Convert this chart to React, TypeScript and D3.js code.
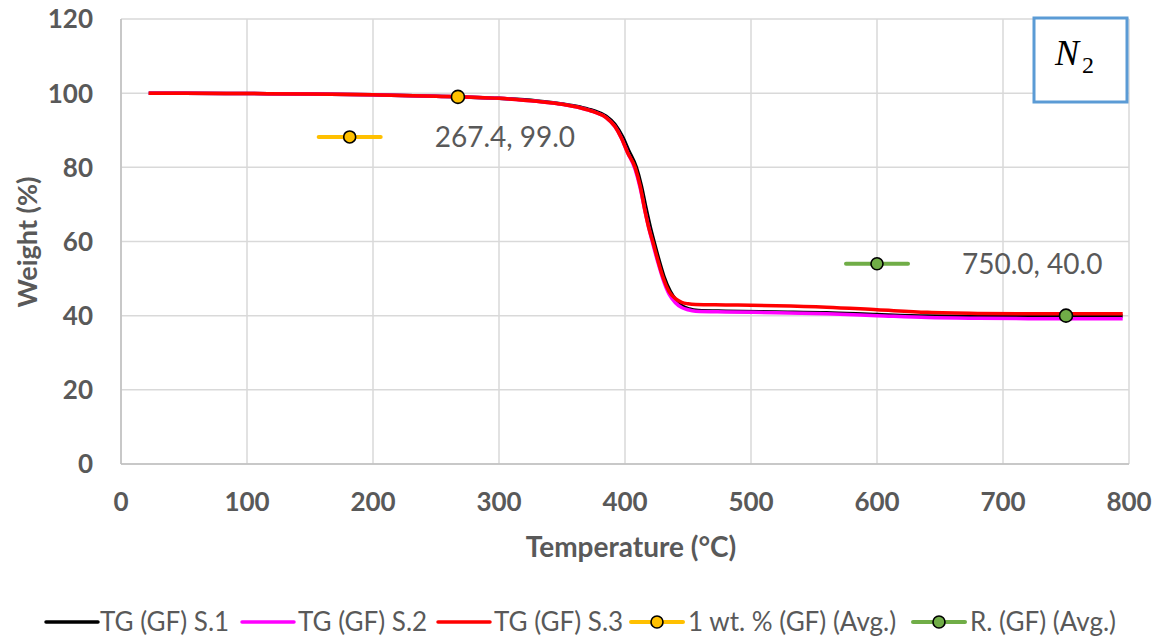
import React from "react";
import * as d3 from "d3";

const W = 1153;
const H = 639;

const xTicks = [0, 100, 200, 300, 400, 500, 600, 700, 800];
const yTicks = [0, 20, 40, 60, 80, 100, 120];

const tgS1: [number, number][] = [
  [22, 100], [50, 100], [100, 99.9], [150, 99.8], [200, 99.55], [250, 99.2], [300, 98.6],
  [330, 97.9], [350, 97.1], [365, 96.2], [375, 95.3], [385, 93.8], [392, 91.6], [398, 88.3],
  [403, 84.5], [409, 80], [413, 75], [417, 68.5], [420, 64], [423, 60], [427, 55], [431, 50.5],
  [436, 46.5], [441, 44], [446, 42.5], [451, 41.8], [458, 41.4], [480, 41.2], [520, 41.0],
  [560, 40.8], [600, 40.3], [640, 39.9], [680, 39.8], [720, 39.8], [760, 39.8], [795, 39.9],
];

const tgS2: [number, number][] = [
  [22, 100], [50, 100], [100, 99.9], [150, 99.8], [200, 99.55], [250, 99.2], [300, 98.6],
  [330, 97.8], [350, 97.0], [365, 96.0], [375, 95.0], [385, 93.4], [392, 91], [397, 88],
  [402, 84], [408, 79.5], [412, 74.5], [416, 68], [419, 63.5], [422, 59.5], [426, 54.5],
  [430, 50], [435, 45.8], [440, 43.5], [445, 42.2], [450, 41.6], [456, 41.2], [480, 41.0],
  [520, 40.8], [560, 40.5], [600, 40.0], [640, 39.5], [680, 39.3], [720, 39.2], [760, 39.2],
  [795, 39.2],
];

const tgS3: [number, number][] = [
  [22, 100], [50, 100], [100, 99.9], [150, 99.8], [200, 99.55], [250, 99.2], [300, 98.6],
  [330, 97.8], [350, 97.0], [365, 96.0], [375, 95.0], [385, 93.4], [392, 91], [397, 88],
  [402, 84], [408, 80], [412, 75], [416, 68], [419, 63.5], [422, 60], [426, 55], [430, 50.5],
  [435, 46.5], [440, 44.6], [445, 43.6], [450, 43.2], [456, 43.0], [480, 42.9], [520, 42.7],
  [560, 42.3], [600, 41.6], [640, 40.9], [680, 40.6], [720, 40.5], [760, 40.5], [795, 40.5],
];

const onsetPoint: [number, number] = [267.4, 99.0];
const onsetLabelAt: [number, number] = [181.5, 88.2];
const residuePoint: [number, number] = [750.0, 40.0];
const residueLabelAt: [number, number] = [600, 54];

const seriesNames = ["TG (GF) S.1", "TG (GF) S.2", "TG (GF) S.3", "1 wt. % (GF) (Avg.)", "R. (GF) (Avg.)"];
const seriesColors = ["#000000", "#FF00FF", "#FF0000", "#FFC000", "#70AD47"];

const FONT = "Lato, 'Noto Sans', sans-serif";
const TXT = "#595959";

export default function App() {
  const x = d3.scaleLinear().domain([0, 800]).range([121, 1129]);
  const y = d3.scaleLinear().domain([0, 120]).range([464, 19]);
  const line = d3
    .line<[number, number]>()
    .x((d) => x(d[0]))
    .y((d) => y(d[1]))
    .curve(d3.curveMonotoneX);

  const curves = [tgS1, tgS2, tgS3];

  const labelKey = (at: [number, number], pt: [number, number], color: string, key: string) => {
    const cx = x(at[0]);
    const cy = y(at[1]);
    return (
      <g key={key}>
        <line x1={cx - 31} x2={cx + 31} y1={cy} y2={cy} stroke={color} strokeWidth={4} strokeLinecap="round" />
        <circle cx={cx} cy={cy} r={6} fill={color} stroke="#000" strokeWidth={1.6} />
        <text x={cx + 85} y={cy} dy="0.36em" fontFamily={FONT} fontSize={28} fill={TXT}>
          {`${pt[0].toFixed(1)}, ${pt[1].toFixed(1)}`}
        </text>
      </g>
    );
  };

  const legendItems = [
    { lx: 46, tx: 100 },
    { lx: 242, tx: 298 },
    { lx: 438, tx: 494 },
    { lx: 631, tx: 688 },
    { lx: 913, tx: 970 },
  ];
  const legY = 622;

  return (
    <svg
      width={W}
      height={H}
      style={{ position: "absolute", left: 0, top: 0, display: "block", background: "#fff" }}
    >
      <rect width={W} height={H} fill="#fff" />
      {/* gridlines */}
      {yTicks.map((t) => (
        <line key={"gy" + t} x1={x(0)} x2={x(800)} y1={y(t)} y2={y(t)} stroke="#D9D9D9" strokeWidth={1.5} />
      ))}
      {xTicks.map((t) => (
        <line key={"gx" + t} x1={x(t)} x2={x(t)} y1={y(0)} y2={y(120)} stroke="#D9D9D9" strokeWidth={1.5} />
      ))}
      <line x1={x(0)} x2={x(800)} y1={y(0)} y2={y(0)} stroke="#BFBFBF" strokeWidth={1.5} />
      <line x1={x(0)} x2={x(0)} y1={y(0)} y2={y(120)} stroke="#BFBFBF" strokeWidth={1.5} />

      {/* tick labels */}
      {yTicks.map((t) => (
        <text key={"ty" + t} x={93} y={y(t)} dy="0.36em" textAnchor="end" fontFamily={FONT} fontWeight="bold" fontSize={26} fill={TXT}>
          {t}
        </text>
      ))}
      {xTicks.map((t) => (
        <text key={"tx" + t} x={x(t)} y={502} dy="0.36em" textAnchor="middle" fontFamily={FONT} fontWeight="bold" fontSize={26} fill={TXT}>
          {t}
        </text>
      ))}

      {/* axis titles */}
      <text x={631} y={547} dy="0.36em" textAnchor="middle" fontFamily={FONT} fontWeight="bold" fontSize={28} fill={TXT}>
        Temperature (°C)
      </text>
      <text
        transform="translate(27,242) rotate(-90)"
        dy="0.36em"
        textAnchor="middle"
        fontFamily={FONT}
        fontWeight="bold"
        fontSize={27}
        fill={TXT}
      >
        Weight (%)
      </text>

      {/* curves */}
      {curves.map((c, i) => (
        <path key={"c" + i} d={line(c) || ""} fill="none" stroke={seriesColors[i]} strokeWidth={3.5} strokeLinejoin="round" />
      ))}

      {/* points */}
      <circle cx={x(onsetPoint[0])} cy={y(onsetPoint[1])} r={6.5} fill={seriesColors[3]} stroke="#000" strokeWidth={1.6} />
      <circle cx={x(residuePoint[0])} cy={y(residuePoint[1])} r={6.5} fill={seriesColors[4]} stroke="#000" strokeWidth={1.6} />

      {/* data labels with keys */}
      {labelKey(onsetLabelAt, onsetPoint, seriesColors[3], "l1")}
      {labelKey(residueLabelAt, residuePoint, seriesColors[4], "l2")}

      {/* N2 box */}
      <rect x={1034} y={18} width={93} height={84} fill="#fff" stroke="#5B9BD5" strokeWidth={3} />
      <text x={1055} y={65} fontFamily="'Liberation Serif', 'DejaVu Serif', serif" fontStyle="italic" fontSize={36} fill="#000">
        N
      </text>
      <text x={1082} y={73} fontFamily="'Liberation Serif', 'DejaVu Serif', serif" fontSize={24} fill="#000">
        2
      </text>

      {/* legend */}
      {legendItems.map((it, i) => (
        <g key={"lg" + i}>
          <line x1={it.lx} x2={it.lx + 52} y1={legY} y2={legY} stroke={seriesColors[i]} strokeWidth={i < 3 ? 3.5 : 4} strokeLinecap="round" />
          {i >= 3 && <circle cx={it.lx + 26} cy={legY} r={6} fill={seriesColors[i]} stroke="#000" strokeWidth={1.6} />}
          <text x={it.tx} y={legY} dy="0.36em" fontFamily={FONT} fontSize={26} fill={TXT}>
            {seriesNames[i]}
          </text>
        </g>
      ))}
    </svg>
  );
}
